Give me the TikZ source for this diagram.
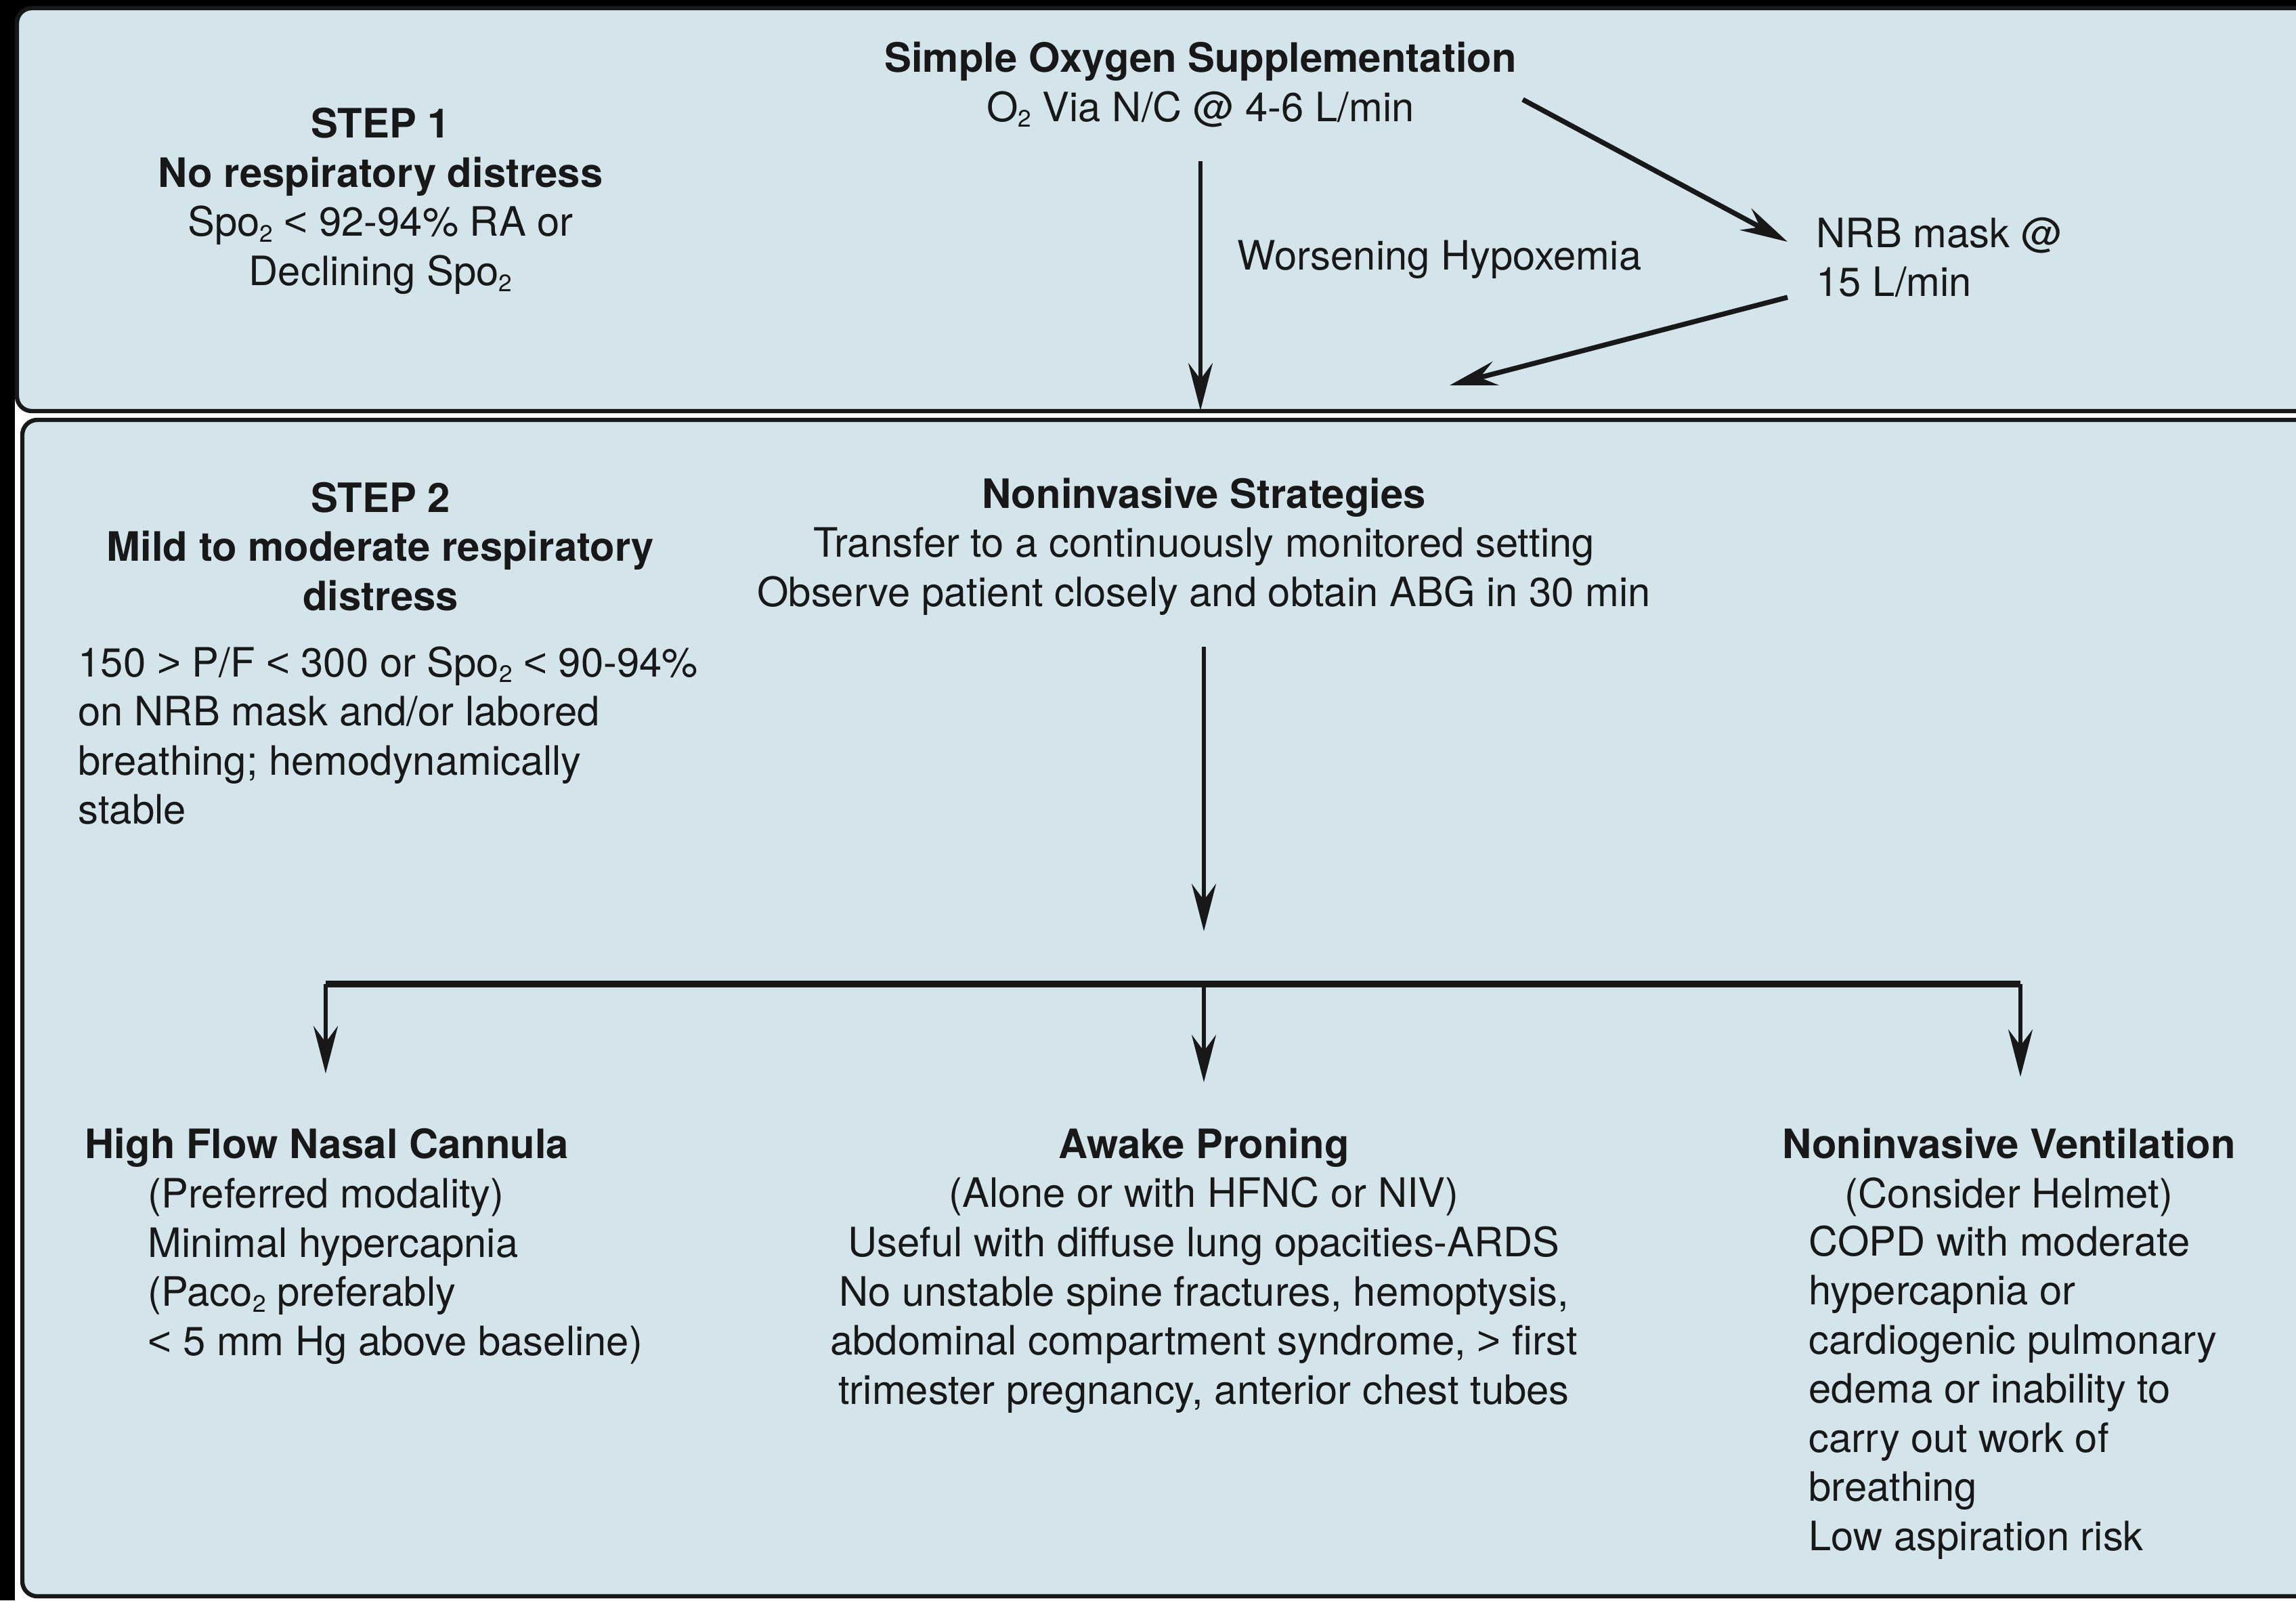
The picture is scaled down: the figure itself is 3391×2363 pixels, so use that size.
\documentclass[tikz,border=0pt]{standalone}
\usepackage{fontspec}
\setmainfont{TeX Gyre Heros}
\newfontfamily\symfont{Liberation Sans}
\newcommand{\LTs}{{\symfont <}}
\newcommand{\GTs}{{\symfont >}}
\newcommand{\subtwo}{\raisebox{-0.28ex}{\fontsize{10}{10}\selectfont 2}}
\usetikzlibrary{arrows.meta}
\definecolor{panel}{RGB}{211,228,235}
\definecolor{ink}{RGB}{24,24,24}
\begin{document}
\begin{tikzpicture}[x=0.01cm,y=-0.01cm,
  txt/.style={inner sep=0pt, font=\fontsize{17}{20.63}\selectfont, text=ink},
  panelbox/.style={draw=ink, line width=1.8pt, fill=panel, rounded corners=0.22cm},
  arr/.style={draw=ink, line width=1.7pt, -{Stealth[length=0.7cm,width=0.36cm,inset=0.24cm]}},
  darr/.style={arr, line width=2.1pt},
  bar/.style={draw=ink, line width=2.6pt}]
\useasboundingbox (0,0) rectangle (3391,2363);
\clip (0,0) rectangle (3391,2363);
% background
\fill[white] (0,0) rectangle (3391,2363);
\fill[black] (0,0) rectangle (22,2363);
\fill[black] (0,0) rectangle (3391,11);
\fill[black] (0,0) rectangle (70,60);
% panels
\draw[panelbox] (25,12) rectangle (3460,607);
\draw[panelbox] (33,620) rectangle (3460,2357);

% STEP 1
\node[txt, align=center] (s1) at (562,297)
  {\textbf{STEP 1}\\\textbf{No respiratory distress}\\Spo\subtwo{} \LTs{} 92-94\% RA or\\Declining Spo\subtwo};
\node[txt, align=center] (sos) at (1773,125)
  {\textbf{Simple Oxygen Supplementation}\\O\subtwo{} Via N/C @ 4-6 L/min};
\node[txt, anchor=west] (worse) at (1827,383) {Worsening Hypoxemia};
\node[txt, anchor=west, align=left] (nrb) at (2682,380) {NRB mask @\\15 L/min};

\coordinate (a1s) at (1773,238);
\coordinate (a1e) at (1773,606);
\coordinate (d1s) at (2249,147);
\coordinate (d1e) at (2640,357);
\coordinate (d2s) at (2640,439);
\coordinate (d2e) at (2141,569);
\draw[arr] (a1s) -- (a1e);
\draw[darr] (d1s) -- (d1e);
\draw[darr] (d2s) -- (d2e);

% STEP 2
\node[txt, align=center, font=\fontsize{17}{20.63}\selectfont\bfseries] (s2) at (562,807)
  {STEP 2\\Mild to moderate respiratory\\distress};
\node[txt, anchor=west, align=left] (s2d) at (115,1086)
  {150 \GTs{} P/F \LTs{} 300 or Spo\subtwo{} \LTs{} 90-94\%\\on NRB mask and/or labored\\breathing; hemodynamically\\stable};
\node[txt, align=center] (nis) at (1778,807)
  {\textbf{Noninvasive Strategies}\\Transfer to a continuously monitored setting\\Observe patient closely and obtain ABG in 30 min};

\coordinate (m1s) at (1778,955);
\coordinate (m1e) at (1778,1375);
\draw[arr] (m1s) -- (m1e);

\coordinate (bl) at (481,1453);
\coordinate (bm) at (1778,1453);
\coordinate (br) at (2984,1453);
\coordinate (tl) at (481,1585);
\coordinate (tm) at (1778,1598);
\coordinate (tr) at (2984,1590);
\draw[bar] (bl) -- (br);
\draw[arr] (bl) -- (tl);
\draw[arr] (bm) -- (tm);
\draw[arr] (br) -- (tr);

% HFNC
\node[txt, anchor=west, font=\fontsize{17}{20.63}\selectfont\bfseries] (hfnc) at (125,1695) {High Flow Nasal Cannula};
\node[txt, anchor=west, align=left] (hfncb) at (218,1877)
  {(Preferred modality)\\Minimal hypercapnia\\(Paco\subtwo{} preferably\\\LTs{} 5 mm Hg above baseline)};
% Awake proning
\node[txt, align=center] (ap) at (1778,1876)
  {\textbf{Awake Proning}\\(Alone or with HFNC or NIV)\\Useful with diffuse lung opacities-ARDS\\No unstable spine fractures, hemoptysis,\\abdominal compartment syndrome, \GTs{} first\\trimester pregnancy, anterior chest tubes};
% NIV
\node[txt, align=center] (niv) at (2967,1731)
  {\textbf{Noninvasive Ventilation}\\(Consider Helmet)};
\node[txt, anchor=west, align=left] (nivb) at (2671,2056)
  {COPD with moderate\\hypercapnia or\\cardiogenic pulmonary\\edema or inability to\\carry out work of\\breathing\\Low aspiration risk};
\end{tikzpicture}
\end{document}
